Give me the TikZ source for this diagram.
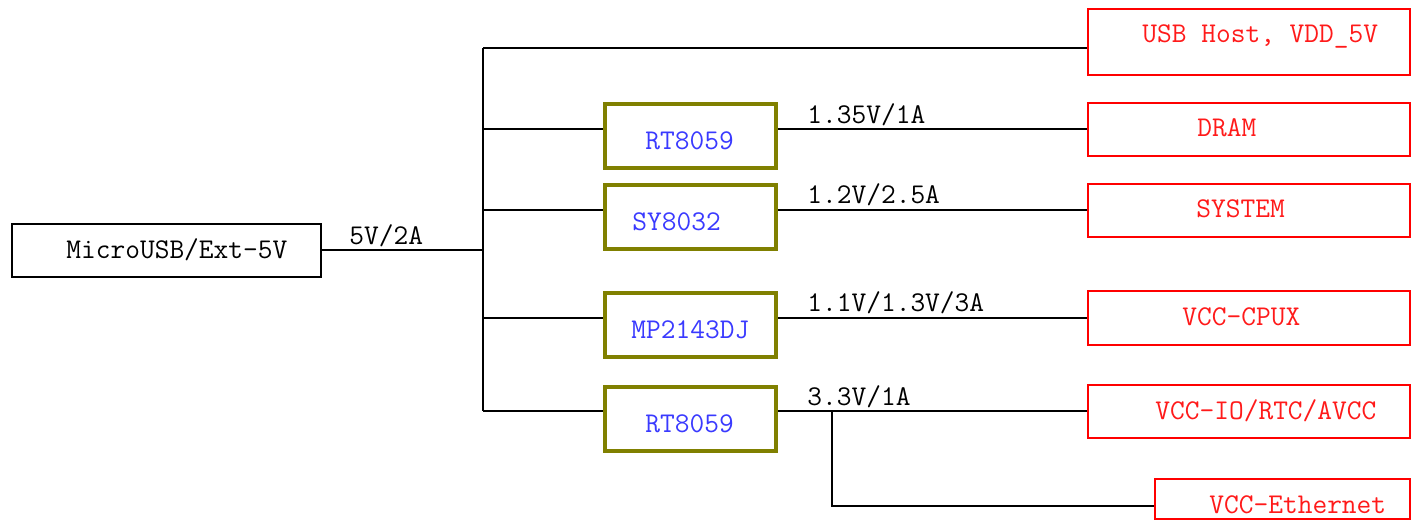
\documentclass[tikz,border=0pt]{standalone}
\usepackage{fontspec}
\definecolor{olivebox}{HTML}{808000}
\definecolor{chipblue}{HTML}{3A3AFF}
\definecolor{loadred}{HTML}{FF1A1A}
\begin{document}
\begin{tikzpicture}[x=0.5pt,y=-0.5pt,
  wire/.style={draw=black,line width=0.6pt},
  srcbox/.style={draw=black,line width=0.6pt,minimum width=154.5pt,minimum height=26.5pt,inner sep=0pt},
  chipbox/.style={draw=olivebox,line width=2pt,minimum width=85.5pt,minimum height=32pt,inner sep=0pt},
  loadbox/.style={draw=red,line width=0.6pt,minimum width=161pt,minimum height=26.5pt,inner sep=0pt},
  txt/.style={anchor=base west,inner sep=0pt,font=\ttfamily\fontsize{14.3}{16}\selectfont},
  chiptxt/.style={txt,text=chipblue},
  loadtxt/.style={txt,text=loadred}]
\useasboundingbox (0,0) rectangle (1416,525);
\fill[white] (0,0) rectangle (1416,525);
% boxes
\node[srcbox] (src) at (166.5,250.5) {};
\node[chipbox] (reg1) at (690.5,135.5) {};
\node[chipbox] (reg2) at (690.5,216.5) {};
\node[chipbox] (reg3) at (690.5,324.5) {};
\node[chipbox] (reg4) at (690.5,418.5) {};
\node[loadbox,minimum height=33pt] (usbh) at (1249,42) {};
\node[loadbox] (dram) at (1249,129.5) {};
\node[loadbox] (sys) at (1249,210.5) {};
\node[loadbox,minimum height=27pt] (cpux) at (1249,318) {};
\node[loadbox] (vccio) at (1249,411.5) {};
\node[loadbox,minimum width=127.5pt,minimum height=20pt] (eth) at (1282.5,499) {};
% texts
\node[txt] (tsrc) at (66,258) {MicroUSB/Ext-5V};
\node[txt] (t5v) at (349,244) {5V/2A};
\node[chiptxt] (tr1) at (645,149) {RT8059};
\node[chiptxt] (tr2) at (632,230) {SY8032};
\node[chiptxt] (tr3) at (631,338) {MP2143DJ};
\node[chiptxt] (tr4) at (645,432) {RT8059};
\node[txt] (v1) at (807,123) {1.35V/1A};
\node[txt] (v2) at (807,203) {1.2V/2.5A};
\node[txt] (v3) at (807,311) {1.1V/1.3V/3A};
\node[txt] (v4) at (807,405) {3.3V/1A};
\node[loadtxt] (tusbh) at (1142,42) {USB Host, VDD\_5V};
\node[loadtxt] (tdram) at (1197,136) {DRAM};
\node[loadtxt] (tsys) at (1196,217) {SYSTEM};
\node[loadtxt] (tcpux) at (1182,325) {VCC-CPUX};
\node[loadtxt] (tvccio) at (1155,419) {VCC-IO/RTC/AVCC};
\node[loadtxt] (teth) at (1209,513) {VCC-Ethernet};
% bus coordinates
\coordinate (bin) at (483,250);
\coordinate (b0) at (483,48);
\coordinate (b1) at (483,129);
\coordinate (b2) at (483,210);
\coordinate (b3) at (483,318);
\coordinate (b4) at (483,411);
\coordinate (o1) at (778,129);
\coordinate (o2) at (778,210);
\coordinate (o3) at (778,318);
\coordinate (o4) at (778,411);
\coordinate (tap) at (832,411);
\coordinate (tapd) at (832,506);
% connectors
\draw[wire] (src.east |- bin) -- (bin);
\draw[wire] (b0) -- (b4);
\draw[wire] (b0) -- (usbh.west |- b0);
\draw[wire] (b1) -- (reg1.west |- b1);
\draw[wire] (b2) -- (reg2.west |- b2);
\draw[wire] (b3) -- (reg3.west |- b3);
\draw[wire] (b4) -- (reg4.west |- b4);
\draw[wire] (reg1.east |- o1) -- (dram.west |- o1);
\draw[wire] (reg2.east |- o2) -- (sys.west |- o2);
\draw[wire] (reg3.east |- o3) -- (cpux.west |- o3);
\draw[wire] (reg4.east |- o4) -- (vccio.west |- o4);
\draw[wire] (tap) -- (tapd) -- (eth.west |- tapd);
\end{tikzpicture}
\end{document}
